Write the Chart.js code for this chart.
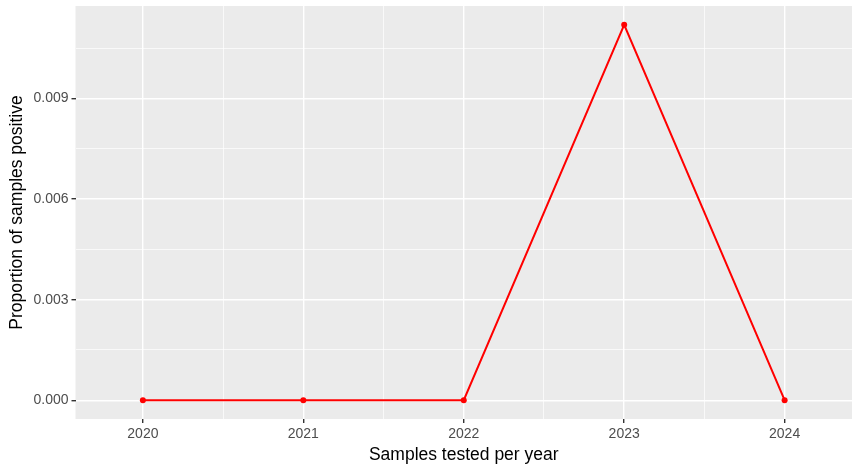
<!DOCTYPE html>
<html>
<head>
<meta charset="utf-8">
<script src="https://cdn.jsdelivr.net/npm/chart.js@4"></script>
<style>
html,body{margin:0;padding:0;background:#fff;}
#wrap{width:858px;height:471px;}
</style>
</head>
<body>
<div id="wrap"><canvas id="c" width="858" height="471"></canvas></div>
<script>
const years = [2020, 2021, 2022, 2023, 2024];
const proportionPositive = [0, 0, 0, 0.0112, 0];
const yTickValues = [0, 0.003, 0.006, 0.009];
const yTickLabels = ['0.000', '0.003', '0.006', '0.009'];
const yMinorValues = [0.0015, 0.0045, 0.0075, 0.0105];
const xTickValues = [2020, 2021, 2022, 2023, 2024];
const xMinorValues = [2020.5, 2021.5, 2022.5, 2023.5];

const yMax = Math.max(...proportionPositive);
const yPad = yMax * 0.05;
const xPad = 0.42;

const panelBg = {
  id: 'panelBg',
  beforeDraw(chart) {
    const a = chart.chartArea, ctx = chart.ctx;
    ctx.save();
    ctx.fillStyle = '#EBEBEB';
    ctx.fillRect(a.left, a.top, a.right - a.left, a.bottom - a.top);
    ctx.restore();
  }
};

function buildTicks(major, minor) {
  return [...major.map(v => ({value: v, major: true})), ...minor.map(v => ({value: v, major: false}))]
    .sort((a, b) => a.value - b.value);
}

const font = 'Liberation Sans, Arial, sans-serif';

new Chart(document.getElementById('c'), {
  type: 'line',
  data: {
    datasets: [{
      data: years.map((x, i) => ({x: x, y: proportionPositive[i]})),
      borderColor: '#FF0000',
      backgroundColor: '#FF0000',
      borderWidth: 2,
      pointRadius: 3,
      pointHoverRadius: 3,
      pointBorderWidth: 0,
      tension: 0
    }]
  },
  options: {
    responsive: false,
    animation: false,
    events: [],
    layout: {autoPadding: false, padding: {left: 0, top: 6, right: 6, bottom: 0}},
    plugins: {legend: {display: false}, tooltip: {enabled: false}},
    scales: {
      x: {
        type: 'linear',
        min: years[0] - xPad,
        max: years[years.length - 1] + xPad,
        afterBuildTicks: s => { s.ticks = buildTicks(xTickValues, xMinorValues); },
        afterFit: s => { s.height = 52; s.paddingLeft = 0; s.paddingRight = 0; },
        border: {display: false},
        grid: {
          drawOnChartArea: true,
          color: '#FFFFFF',
          lineWidth: c => (c.tick && c.tick.major) ? 1.4 : 0.7,
          tickColor: c => (c.tick && c.tick.major) ? '#333333' : 'rgba(0,0,0,0)',
          tickLength: 4
        },
        ticks: {
          autoSkip: false,
          maxRotation: 0,
          minRotation: 0,
          padding: 3,
          color: '#4D4D4D',
          font: {family: font, size: 14},
          callback: (v) => xTickValues.includes(v) ? String(v) : ''
        },
        title: {
          display: true,
          text: 'Samples tested per year',
          color: '#000000',
          font: {family: font, size: 17.5},
          padding: {top: 2, bottom: 5}
        }
      },
      y: {
        type: 'linear',
        min: -yPad,
        max: yMax + yPad,
        afterBuildTicks: s => { s.ticks = buildTicks(yTickValues, yMinorValues); },
        afterFit: s => { s.width = 75.5; s.paddingTop = 0; s.paddingBottom = 0; },
        border: {display: false},
        grid: {
          drawOnChartArea: true,
          color: '#FFFFFF',
          lineWidth: c => (c.tick && c.tick.major) ? 1.4 : 0.7,
          tickColor: c => (c.tick && c.tick.major) ? '#333333' : 'rgba(0,0,0,0)',
          tickLength: 4
        },
        ticks: {
          autoSkip: false,
          padding: 3,
          color: '#4D4D4D',
          font: {family: font, size: 14},
          callback: (v) => {
            const i = yTickValues.findIndex(t => Math.abs(t - v) < 1e-9);
            return i >= 0 ? yTickLabels[i] : '';
          }
        },
        title: {
          display: true,
          text: 'Proportion of samples positive',
          color: '#000000',
          font: {family: font, size: 17.5},
          padding: {top: 7, bottom: 2}
        }
      }
    }
  },
  plugins: [panelBg]
});
</script>
</body>
</html>
